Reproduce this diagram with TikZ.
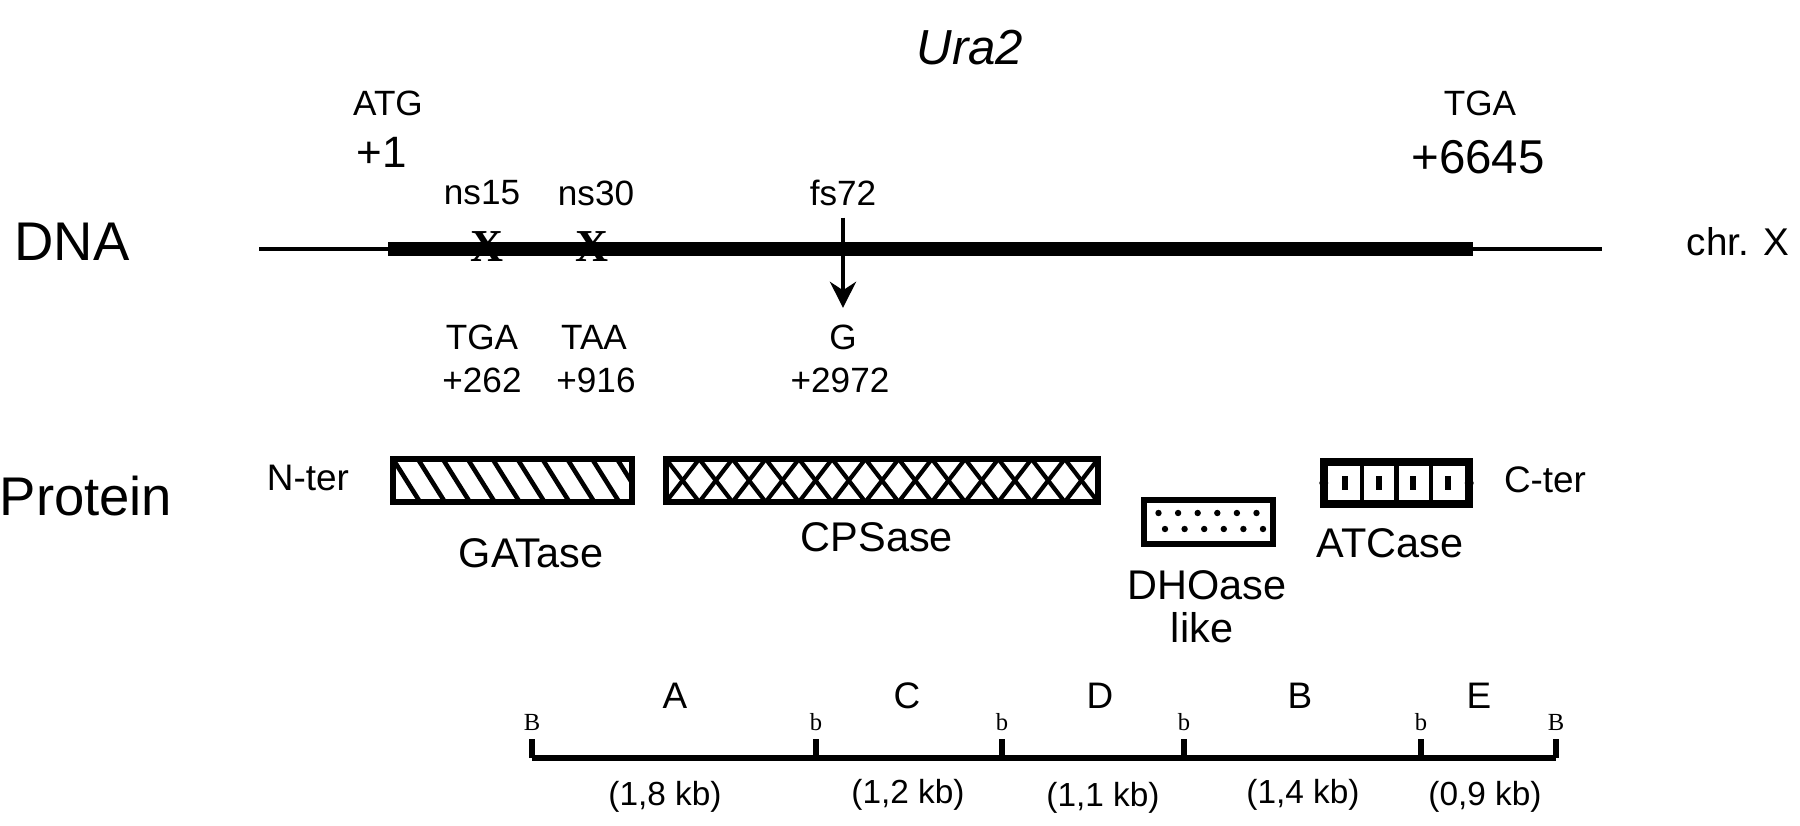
\documentclass[tikz,border=0pt]{standalone}
\usepackage{fontspec}
\setmainfont{Liberation Sans}
\newfontfamily\timesfont{Liberation Serif}
\usetikzlibrary{arrows.meta,calc}

\begin{document}
\begin{tikzpicture}[
    >=Stealth,
    lbl/.style={inner sep=0pt, font=\fontsize{10}{12}\selectfont},
    big/.style={inner sep=0pt, font=\fontsize{15.5}{18}\selectfont},
    num/.style={inner sep=0pt, font=\fontsize{12.5}{15}\selectfont},
    dom/.style={inner sep=0pt, font=\fontsize{11.8}{14}\selectfont},
    seg/.style={inner sep=0pt, font=\fontsize{10.5}{12}\selectfont},
    kb/.style={inner sep=0pt, font=\fontsize{9.5}{11}\selectfont},
    site/.style={inner sep=0pt, font=\timesfont\fontsize{7}{8}\selectfont},
    xmark/.style={inner sep=0pt, font=\timesfont\bfseries\fontsize{13}{14}\selectfont},
    thinline/.style={line width=1.4pt},
    thickline/.style={line width=4pt},
    mapline/.style={line width=1.5pt},
    arr/.style={-{Stealth[length=2.6mm,width=2.6mm]}, line width=1.3pt},
    box/.style={
        draw,
        line width=1.6pt,
        inner sep=0pt,
        minimum height=4.3mm
    },
    gatbox/.style={
        box,
        minimum width=23.9mm,
        path picture={
            \foreach \k in {-1,...,10}
                \draw[line width=1.3pt] ($(path picture bounding box.north west)+(\k*0.249,0)$) -- ++(0.27,-0.43);
        }
    },
    cpsbox/.style={
        box,
        minimum width=43.2mm,
        path picture={
            \foreach \k in {0,...,12} {
                \draw[line width=1.2pt] ($(path picture bounding box.north west)+(\k*0.3323,0)$) -- ++(0.3323,-0.43);
                \draw[line width=1.2pt] ($(path picture bounding box.north west)+(\k*0.3323+0.3323,0)$) -- ++(-0.3323,-0.43);
            }
        }
    },
    dhobox/.style={
        box,
        minimum width=12.9mm,
        minimum height=4.4mm
    },
    atcbox/.style={
        box,
        line width=2.4pt,
        minimum width=14.5mm,
        minimum height=4.2mm
    }
]
\useasboundingbox (0,0) rectangle (18,-8.25);

% title
\node[dom, font=\itshape\fontsize{14}{16}\selectfont] (title) at (9.70,-0.48) {Ura2};

% dna line
\node[big] (dna) at (0.72,-2.42) {DNA};
\coordinate (dnaL) at (2.59,-2.49);
\coordinate (atgpos) at (3.88,-2.49);
\coordinate (tgapos) at (14.73,-2.49);
\coordinate (dnaR) at (16.02,-2.49);
\draw[thinline] (dnaL) -- (dnaR);
\draw[thickline] (atgpos) -- (tgapos);
\node[lbl, font=\fontsize{11}{13}\selectfont] (chr) at (17.38,-2.42) {chr. X};

\node[lbl] (atg) at (3.88,-1.03) {ATG};
\node[num] (start) at (3.82,-1.52) {+1};
\node[lbl] (tga) at (14.80,-1.03) {TGA};
\node[num, font=\fontsize{13.5}{16}\selectfont] (stop) at (14.78,-1.57) {+6645};

% mutations
\node[lbl] (ns15) at (4.82,-1.93) {ns15};
\node[lbl] (ns30) at (5.96,-1.93) {ns30};
\node[lbl] (fs72) at (8.43,-1.93) {fs72};
\node[xmark] (x15) at (4.87,-2.47) {X};
\node[xmark] (x30) at (5.92,-2.47) {X};

\node[lbl] (tga15) at (4.82,-3.37) {TGA};
\node[lbl] (pos15) at (4.82,-3.80) {+262};
\node[lbl] (taa30) at (5.94,-3.37) {TAA};
\node[lbl] (pos30) at (5.96,-3.80) {+916};
\node[lbl] (g72) at (8.43,-3.37) {G};
\node[lbl] (pos72) at (8.40,-3.80) {+2972};

\draw[arr, shorten <=1.1mm, shorten >=1.6mm] (fs72) -- (g72);

% protein domains
\node[big] (protein) at (0.86,-4.96) {Protein};
\node[lbl, font=\fontsize{10.5}{12}\selectfont] (nter) at (3.08,-4.78) {N-ter};
\node[gatbox] (gat) at (5.125,-4.805) {};
\node[cpsbox] (cps) at (8.82,-4.805) {};
\node[dhobox] (dho) at (12.085,-5.22) {};
\node[atcbox] (atc) at (13.965,-4.83) {};
\node[lbl, font=\fontsize{10.5}{12}\selectfont] (cter) at (15.45,-4.80) {C-ter};

\foreach \k in {0,...,5} {
    \fill ($(dho)+(-0.50+\k*0.196,0.09)$) circle (0.032);
    \fill ($(dho)+(-0.435+\k*0.196,-0.07)$) circle (0.032);
}
\foreach \d in {-0.345,0,0.345} {
    \draw[line width=1.2pt] ($(atc)+(\d,0.2)$) -- ($(atc)+(\d,-0.2)$);
    \fill ($(atc)+(\d-0.04,0.17)$) rectangle ($(atc)+(\d+0.04,0.21)$);
    \fill ($(atc)+(\d-0.04,-0.17)$) rectangle ($(atc)+(\d+0.04,-0.21)$);
}
\foreach \d in {-0.515,-0.175,0.165,0.515}
    \draw[line width=1.6pt] ($(atc)+(\d,0.07)$) -- ($(atc)+(\d,-0.07)$);
\fill ($(atc.west)+(0.04,0)$) circle (0.045);
\fill ($(atc.east)+(-0.04,0)$) circle (0.045);

\node[dom] (gatlbl) at (5.31,-5.53) {GATase};
\node[dom] (cpslbl) at (8.77,-5.37) {CPSase};
\node[dom] (dholbl) at (12.07,-5.85) {DHOase};
\node[dom] (likelbl) at (12.02,-6.28) {like};
\node[dom] (atclbl) at (13.90,-5.43) {ATCase};

% restriction map
\coordinate (r0) at (5.32,-7.58);
\coordinate (r1) at (8.16,-7.58);
\coordinate (r2) at (10.02,-7.58);
\coordinate (r3) at (11.84,-7.58);
\coordinate (r4) at (14.21,-7.58);
\coordinate (r5) at (15.56,-7.58);
\draw[mapline] (r0) -- (r5);
\foreach \p/\s in {r0/B,r1/b,r2/b,r3/b,r4/b,r5/B} {
    \draw[mapline] (\p) -- ++(0,0.19);
    \node[site] (s\p) at ($(\p)+(0,0.36)$) {\s};
}

\node[seg] (segA) at (6.75,-6.96) {A};
\node[seg] (segC) at (9.07,-6.96) {C};
\node[seg] (segD) at (11.00,-6.96) {D};
\node[seg] (segB) at (13.00,-6.96) {B};
\node[seg] (segE) at (14.79,-6.96) {E};

\node[kb] (kbA) at (6.65,-7.97) {(1,8 kb)};
\node[kb] (kbC) at (9.08,-7.95) {(1,2 kb)};
\node[kb] (kbD) at (11.03,-7.98) {(1,1 kb)};
\node[kb] (kbB) at (13.03,-7.95) {(1,4 kb)};
\node[kb] (kbE) at (14.85,-7.97) {(0,9 kb)};

\end{tikzpicture}
\end{document}
